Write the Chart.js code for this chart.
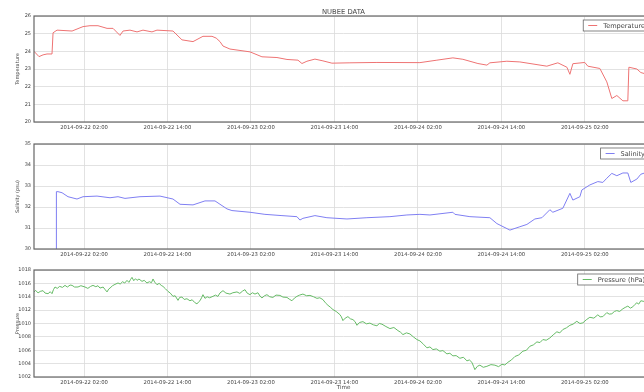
<!DOCTYPE html>
<html>
<head>
<meta charset="utf-8">
<script src="https://cdn.jsdelivr.net/npm/chart.js@4"></script>
<style>
  html, body { margin: 0; padding: 0; background: #fff; overflow: hidden; width: 644px; height: 392px; }
  #fig { position: relative; width: 664px; height: 392px; }
  #fig canvas { position: absolute; left: 0; }
</style>
</head>
<body>
<div id="fig">
  <canvas id="cTemp" width="664" height="140" style="top:0px"></canvas>
  <canvas id="cSal" width="664" height="139" style="top:128px"></canvas>
  <canvas id="cPres" width="664" height="141" style="top:254px"></canvas>
</div>
<script>
// Time axis: hours since 2014-09-22 00:00
const X_MIN = -5.19;
const X_MAX = 83.8;
const tickHours = [2, 14, 26, 38, 50, 62, 74];
const tickLabels = [
  '2014-09-22 02:00', '2014-09-22 14:00', '2014-09-23 02:00', '2014-09-23 14:00',
  '2014-09-24 02:00', '2014-09-24 14:00', '2014-09-25 02:00'
];

// Temperature series
const tempHours = [-5.19, -4.47, -3.89, -3.32, -2.60, -2.45, -1.88, 0.28, 1.86, 2.86, 4.01, 5.31, 6.17, 7.17,
  7.61, 8.61, 9.62, 10.48, 11.77, 12.49, 14.79, 16.08, 17.67, 19.10, 20.40, 21.00, 21.55, 21.98, 22.98,
  25.86, 27.58, 29.74, 31.18, 32.76, 33.33, 34.05, 35.20, 36.35, 37.64, 40.23, 44.11, 50.29, 52.73,
  55.03, 56.47, 58.63, 59.92, 60.35, 62.79, 64.66, 68.54, 70.12, 71.42, 71.85, 72.28, 74.00, 74.43,
  76.16, 77.16, 77.88, 78.60, 79.47, 80.18, 80.33, 81.48, 82.05, 83.80];
const tempValues = [24.0, 23.7, 23.8, 23.85, 23.85, 25.05, 25.2, 25.15, 25.4, 25.45, 25.45, 25.3, 25.3, 24.9,
  25.15, 25.2, 25.1, 25.2, 25.1, 25.2, 25.15, 24.65, 24.55, 24.85, 24.85, 24.75, 24.55, 24.3, 24.13,
  23.97, 23.69, 23.65, 23.54, 23.5, 23.31, 23.44, 23.56, 23.46, 23.33, 23.35, 23.37, 23.36, 23.5,
  23.63, 23.55, 23.31, 23.22, 23.35, 23.44, 23.4, 23.16, 23.35, 23.1, 22.7, 23.3, 23.37, 23.16,
  23.03, 22.27, 21.33, 21.5, 21.2, 21.2, 23.1, 23.0, 22.8, 22.6];

// Salinity series
const salHours = [-2.02, -1.97, -1.74, -1.16, -0.30, 0.99, 1.86, 3.87, 5.74, 6.89, 7.89, 10.05, 12.92, 14.79,
  15.80, 17.67, 19.39, 20.83, 21.55, 22.55, 23.27, 25.86, 28.01, 30.46, 32.61, 33.04, 33.47, 35.20,
  36.92, 39.80, 42.67, 45.98, 48.42, 50.29, 51.73, 55.03, 55.32, 57.48, 60.35, 61.36, 63.23, 64.66,
  65.67, 66.82, 67.83, 68.97, 69.40, 70.84, 71.85, 72.28, 73.29, 73.57, 74.72, 75.87, 76.59, 77.16,
  77.88, 78.60, 79.47, 80.18, 80.61, 81.48, 82.05, 83.80];
const salValues = [30, 32.73, 32.73, 32.68, 32.49, 32.38, 32.49, 32.52, 32.44, 32.49, 32.41, 32.49, 32.52, 32.38,
  32.13, 32.1, 32.29, 32.29, 32.13, 31.91, 31.83, 31.75, 31.65, 31.59, 31.54, 31.38, 31.46, 31.59,
  31.49, 31.43, 31.49, 31.54, 31.62, 31.65, 31.62, 31.75, 31.65, 31.54, 31.49, 31.21, 30.9, 31.06,
  31.17, 31.43, 31.49, 31.87, 31.75, 31.94, 32.65, 32.33, 32.49, 32.81, 33.05, 33.21, 33.17, 33.37,
  33.6, 33.49, 33.62, 33.62, 33.17, 33.33, 33.56, 33.75];

// Pressure series
const presHours = [-5.19, -4.95, -4.61, -4.30, -3.89, -3.60, -3.17, -2.85, -2.60, -2.40, -2.17, -1.85, -1.50,
  -1.10, -0.73, -0.40, 0.00, 0.28, 0.65, 1.14, 1.55, 2.14, 2.55, 2.95, 3.29, 3.70, 4.00, 4.30, 4.75,
  5.05, 5.31, 5.55, 5.74, 6.10, 6.45, 6.89, 7.20, 7.55, 7.85, 8.18, 8.45, 8.70, 8.90, 9.15, 9.40, 9.62,
  9.90, 10.34, 10.65, 11.05, 11.40, 11.70, 11.92, 12.15, 12.49, 12.80, 13.10, 13.35, 13.70, 14.07,
  14.40, 14.79, 15.10, 15.51, 15.75, 16.08, 16.40, 16.80, 17.23, 17.55, 17.90, 18.24, 18.45, 18.67,
  18.90, 19.10, 19.39, 19.70, 20.05, 20.54, 20.90, 21.25, 21.55, 21.98, 22.40, 22.98, 23.40, 23.99,
  24.40, 24.80, 25.14, 25.45, 25.86, 26.20, 26.58, 27.00, 27.30, 27.58, 27.95, 28.30, 28.70, 29.16,
  29.60, 30.17, 30.60, 31.18, 31.50, 31.89, 32.25, 32.61, 33.00, 33.47, 34.00, 34.48, 35.00, 35.49,
  35.90, 36.35, 36.70, 37.07, 37.40, 37.79, 38.25, 38.79, 39.00, 39.22, 39.55, 39.94, 40.30, 40.66,
  40.95, 41.24, 41.60, 42.10, 42.60, 43.10, 43.60, 44.11, 44.45, 44.83, 45.40, 45.98, 46.55, 47.13,
  47.50, 47.85, 48.35, 48.85, 49.35, 49.86, 50.29, 50.80, 51.30, 51.73, 52.16, 52.65, 53.16, 53.60,
  54.17, 54.60, 55.03, 55.50, 56.04, 56.55, 57.05, 57.40, 57.76, 58.00, 58.19, 58.55, 58.91, 59.40,
  59.92, 60.50, 61.07, 61.60, 62.08, 62.50, 62.94, 63.45, 63.94, 64.50, 65.09, 65.60, 66.10, 66.60,
  67.11, 67.55, 67.97, 68.45, 68.97, 69.45, 69.98, 70.40, 70.84, 71.35, 71.85, 72.30, 72.85, 73.30,
  73.72, 74.20, 74.72, 75.30, 75.87, 76.20, 76.59, 77.16, 77.50, 77.88, 78.25, 78.60, 79.00, 79.47,
  79.80, 80.18, 80.55, 80.90, 81.20, 81.48, 81.75, 82.05, 82.50, 83.00, 83.40, 83.80];
const presValues = [1014.72, 1014.95, 1014.57, 1014.80, 1014.91, 1014.55, 1014.46, 1014.75, 1014.46, 1015.05,
  1015.46, 1015.25, 1015.55, 1015.40, 1015.70, 1015.45, 1015.75, 1015.70, 1015.45, 1015.46, 1015.65,
  1015.46, 1015.25, 1015.55, 1015.70, 1015.50, 1015.65, 1015.30, 1015.45, 1015.05, 1014.72, 1015.15,
  1015.30, 1015.65, 1015.85, 1016.06, 1015.90, 1016.25, 1016.05, 1016.45, 1016.15, 1016.60, 1016.90,
  1016.40, 1016.70, 1016.45, 1016.65, 1016.30, 1016.45, 1016.06, 1016.25, 1016.10, 1016.66, 1016.20,
  1015.80, 1016.00, 1015.70, 1015.55, 1015.20, 1014.80, 1014.55, 1014.06, 1014.15, 1013.46, 1013.90,
  1013.96, 1013.60, 1013.70, 1013.40, 1013.55, 1013.15, 1012.93, 1013.20, 1013.40, 1013.85, 1014.31,
  1013.76, 1014.00, 1013.85, 1014.06, 1014.25, 1014.05, 1014.57, 1014.91, 1014.55, 1014.40, 1014.60,
  1014.72, 1014.50, 1014.85, 1015.06, 1014.55, 1014.31, 1014.60, 1014.40, 1014.60, 1014.10, 1013.82,
  1014.15, 1014.31, 1014.00, 1013.90, 1014.25, 1014.20, 1013.95, 1013.90, 1013.65, 1013.40, 1013.80,
  1014.06, 1014.25, 1014.40, 1014.15, 1014.20, 1014.00, 1013.76, 1013.85, 1013.57, 1013.10, 1012.72,
  1012.45, 1012.08, 1011.80, 1011.33, 1011.00, 1010.43, 1010.80, 1011.03, 1010.70, 1010.58, 1010.30,
  1009.73, 1010.15, 1010.28, 1009.95, 1010.06, 1009.80, 1009.66, 1010.00, 1009.90, 1009.55, 1009.24,
  1009.40, 1008.94, 1008.70, 1008.34, 1008.60, 1008.44, 1008.00, 1007.60, 1007.40, 1006.90, 1006.36,
  1006.50, 1006.10, 1006.20, 1005.86, 1005.95, 1005.46, 1005.55, 1005.16, 1005.20, 1004.80, 1004.95,
  1004.41, 1004.55, 1004.20, 1003.60, 1003.10, 1003.60, 1003.77, 1003.45, 1003.60, 1003.85, 1003.77,
  1003.55, 1003.90, 1003.80, 1004.20, 1004.55, 1005.06, 1005.30, 1005.86, 1006.00, 1006.60, 1006.80,
  1007.25, 1007.15, 1007.60, 1007.50, 1007.84, 1008.30, 1008.76, 1008.60, 1009.10, 1009.35, 1009.73,
  1009.90, 1010.33, 1010.00, 1010.10, 1010.55, 1010.93, 1010.80, 1011.30, 1011.00, 1011.03, 1011.63,
  1011.40, 1011.45, 1011.80, 1011.93, 1011.80, 1012.20, 1012.40, 1012.60, 1012.30, 1012.50, 1012.85,
  1013.10, 1012.90, 1013.40, 1013.30, 1013.70, 1013.55, 1013.90];

const FONT = 'DejaVu Sans';
const TEXT = '#444';
const GRID = '#dadada';

// Axes frame, boxed legend in the upper right, optional figure title
const panelDeco = {
  id: 'panelDeco',
  afterDatasetsDraw(chart, args, opts) {
    const { ctx, chartArea: a } = chart;
    ctx.save();
    ctx.strokeStyle = '#666';
    ctx.lineWidth = 1.2;
    ctx.strokeRect(a.left, a.top, a.right - a.left, a.bottom - a.top);

    ctx.font = '6.6px "' + FONT + '"';
    const tw = ctx.measureText(opts.legendLabel).width;
    const w = 5 + 9 + 6 + tw + 4, h = 11;
    const x = a.right - 4 - w, y = a.top + 4;
    ctx.fillStyle = '#fff';
    ctx.fillRect(x, y, w, h);
    ctx.strokeStyle = '#666';
    ctx.lineWidth = 0.8;
    ctx.strokeRect(x, y, w, h);
    ctx.strokeStyle = opts.color;
    ctx.lineWidth = 1;
    ctx.beginPath();
    ctx.moveTo(x + 5, y + h / 2);
    ctx.lineTo(x + 14, y + h / 2);
    ctx.stroke();
    ctx.fillStyle = TEXT;
    ctx.textAlign = 'left';
    ctx.textBaseline = 'middle';
    ctx.fillText(opts.legendLabel, x + 20, y + h / 2 + 0.5);

    if (opts.title) {
      ctx.font = '6.8px "' + FONT + '"';
      ctx.textAlign = 'center';
      ctx.fillText(opts.title, (a.left + a.right) / 2, 12);
    }
    ctx.restore();
  }
};

function makePanel(id, p) {
  return new Chart(document.getElementById(id), {
    type: 'line',
    data: {
      datasets: [{
        label: p.label,
        data: p.hours.map((h, i) => ({ x: h, y: p.values[i] })),
        borderColor: p.color,
        borderWidth: 1,
        pointRadius: 0,
        tension: 0,
        fill: false
      }]
    },
    options: {
      responsive: false,
      animation: false,
      devicePixelRatio: 1,
      layout: { padding: { top: 16, right: 11, left: 0, bottom: 0 } },
      plugins: {
        legend: { display: false },
        tooltip: { enabled: false },
        panelDeco: { legendLabel: p.label, color: p.color, title: p.title }
      },
      scales: {
        x: {
          type: 'linear',
          min: X_MIN,
          max: X_MAX,
          afterBuildTicks: s => { s.ticks = tickHours.map(v => ({ value: v })); },
          afterFit: s => { s.height = 18; },
          ticks: {
            autoSkip: false, maxRotation: 0, minRotation: 0, padding: 2,
            font: { family: FONT, size: 5.3 }, color: TEXT,
            callback: v => { const i = tickHours.indexOf(v); return i >= 0 ? tickLabels[i] : ''; }
          },
          grid: { color: GRID, lineWidth: 0.8, drawTicks: false },
          border: { display: false },
          title: {
            display: !!p.xTitle, text: p.xTitle || '',
            font: { family: FONT, size: 5.6 }, color: TEXT,
            padding: { top: 0, bottom: 4.5 }
          }
        },
        y: {
          min: p.yMin,
          max: p.yMax,
          afterFit: s => { s.width = 34; },
          ticks: {
            stepSize: p.yStep, padding: 3, font: { family: FONT, size: 5 }, color: TEXT,
            callback: v => String(v)
          },
          grid: { color: GRID, lineWidth: 0.8, drawTicks: false },
          border: { display: false },
          title: {
            display: true, text: p.yTitle,
            font: { family: FONT, size: 5 }, color: TEXT,
            padding: { top: 14.5, bottom: 0 }
          }
        }
      }
    },
    plugins: [panelDeco]
  });
}

makePanel('cTemp', {
  hours: tempHours, values: tempValues, label: 'Temperature', color: '#ee7373',
  yTitle: 'Temperature', yMin: 20, yMax: 26, yStep: 1, title: 'NUBEE DATA'
});
makePanel('cSal', {
  hours: salHours, values: salValues, label: 'Salinity', color: '#7f7ff2',
  yTitle: 'Salinity (psu)', yMin: 30, yMax: 35, yStep: 1
});
makePanel('cPres', {
  hours: presHours, values: presValues, label: 'Pressure (hPa)', color: '#66bb66',
  yTitle: 'Pressure', yMin: 1002, yMax: 1018, yStep: 2, xTitle: 'Time'
});
</script>
</body>
</html>
